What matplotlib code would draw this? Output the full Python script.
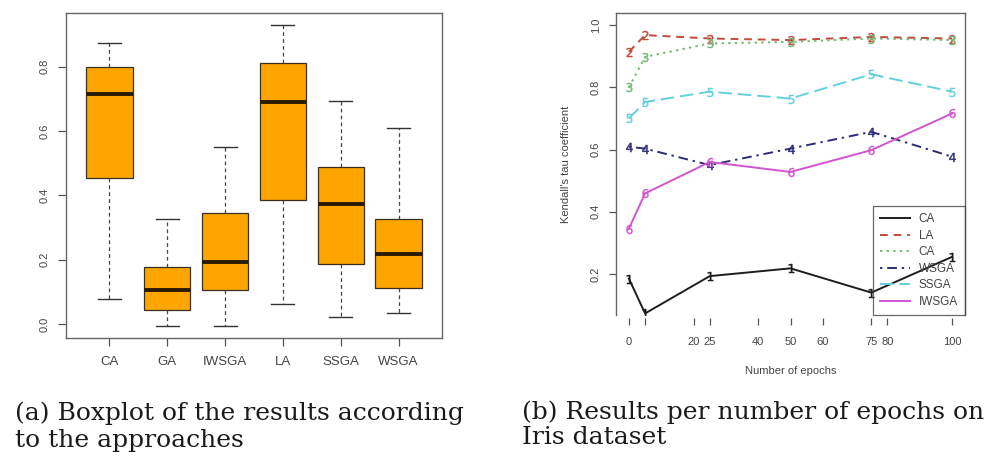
import matplotlib
matplotlib.use("Agg")
import matplotlib.pyplot as plt

plt.rcParams['font.family'] = ['Liberation Sans', 'DejaVu Sans']

# ---- Panel (a) data: boxplot statistics ----
box_labels = ["CA", "GA", "IWSGA", "LA", "SSGA", "WSGA"]
box_whislo = [0.077, -0.006, -0.006, 0.062, 0.023, 0.033]
box_q1 = [0.453, 0.044, 0.106, 0.385, 0.187, 0.111]
box_med = [0.714, 0.106, 0.192, 0.691, 0.372, 0.218]
box_q3 = [0.800, 0.176, 0.346, 0.812, 0.489, 0.325]
box_whishi = [0.875, 0.325, 0.551, 0.930, 0.694, 0.608]
box_yticks = [0.0, 0.2, 0.4, 0.6, 0.8]

# ---- Panel (b) data: Kendall's tau per number of epochs ----
epochs = [0, 5, 25, 50, 75, 100]
series_labels = ["CA", "LA", "CA", "WSGA", "SSGA", "IWSGA"]
tau_ca = [0.185, 0.073, 0.193, 0.218, 0.140, 0.255]
tau_la = [0.914, 0.968, 0.957, 0.952, 0.962, 0.957]
tau_ca2 = [0.800, 0.898, 0.941, 0.946, 0.957, 0.952]
tau_wsga = [0.609, 0.603, 0.550, 0.603, 0.657, 0.577]
tau_ssga = [0.700, 0.753, 0.786, 0.764, 0.842, 0.786]
tau_iwsga = [0.346, 0.459, 0.560, 0.528, 0.598, 0.716]
epoch_ticks = [0, 5, 20, 25, 40, 50, 60, 75, 80, 100]
epoch_ticklabels = ["0", "", "20", "25", "40", "50", "60", "75", "80", "100"]
tau_yticks = [0.2, 0.4, 0.6, 0.8, 1.0]

fig = plt.figure(figsize=(9.94, 4.59), dpi=100)

# ---------------- Panel (a) ----------------
ax1 = fig.add_axes([66/994, 1-338/459, (442-66)/994, (338-13)/459])
stats = []
for i, lab in enumerate(box_labels):
    stats.append(dict(label=lab, whislo=box_whislo[i], q1=box_q1[i], med=box_med[i],
                      q3=box_q3[i], whishi=box_whishi[i], fliers=[]))
ax1.bxp(stats, widths=0.8, patch_artist=True, showfliers=False,
        boxprops=dict(facecolor='#FFA500', edgecolor='#3a3020', linewidth=0.9),
        medianprops=dict(color='#2a1a05', linewidth=2.8, solid_capstyle='butt'),
        whiskerprops=dict(color='#444444', linewidth=0.9, linestyle=(0, (3, 2.5))),
        capprops=dict(color='#333333', linewidth=1.0),
        capwidths=0.4)
ax1.set_xlim(0.25, 6.75)
ax1.set_ylim(-0.0435, 0.967)
ax1.set_yticks(box_yticks)
ax1.set_yticklabels([f"{v:.1f}" for v in box_yticks], rotation=90, va='center', fontsize=8, color='#444444')
ax1.set_xticks(range(1, 7))
ax1.set_xticklabels(box_labels, fontsize=9.5, color='#444444')
ax1.tick_params(axis='both', direction='out', length=6, width=0.9, color='#555555')
ax1.tick_params(axis='x', pad=7)
ax1.tick_params(axis='y', pad=6)
for s in ax1.spines.values():
    s.set_color('#666666')
    s.set_linewidth(1.0)

# ---------------- Panel (b) ----------------
ax2 = fig.add_axes([616/994, 1-315/459, (965-616)/994, (315-13)/459])
ax2.spines['bottom'].set_position(('outward', 2.5))
ax2.spines['bottom'].set_visible(False)
series = [tau_ca, tau_la, tau_ca2, tau_wsga, tau_ssga, tau_iwsga]
colors = ['#1e1e1e', '#c24a3a', '#74b874', '#2c2c78', '#62d2da', '#d254d2']
styles = ['-', (0, (4, 3)), (0, (1.2, 2.2)), (0, (1.2, 2.5, 5, 2.5)), (0, (7, 3)), '-']
for k, (vals, c, ls, lab) in enumerate(zip(series, colors, styles, series_labels)):
    ax2.plot(epochs, vals, color=c, linestyle=ls, linewidth=1.4,
             marker=f'${k+1}$', markersize=6.5, markeredgewidth=0.3, label=lab)
ax2.set_xlim(-4, 104)
ax2.set_ylim(0.068, 1.039)
ax2.set_xticks(epoch_ticks)
ax2.set_xticklabels(epoch_ticklabels, fontsize=8, color='#444444')
ax2.set_yticks(tau_yticks)
ax2.set_yticklabels([f"{v:.1f}" for v in tau_yticks], rotation=90, va='center', fontsize=8, color='#444444')
ax2.tick_params(axis='both', direction='out', length=5, width=0.9, color='#555555')
ax2.tick_params(axis='x', pad=8)
ax2.tick_params(axis='y', pad=6)
for s in ['left', 'right', 'top']:
    ax2.spines[s].set_color('#666666')
    ax2.spines[s].set_linewidth(1.0)
ax2.set_xlabel("Number of epochs", fontsize=8, color='#444444', labelpad=14)
ax2.set_ylabel("Kendall's tau coefficient", fontsize=8, color='#444444', labelpad=14)
leg = ax2.legend(loc='lower right', bbox_to_anchor=(1.0, 0.0), borderaxespad=0,
                 fontsize=8.5, handlelength=2.6, labelspacing=0.38, fancybox=False,
                 facecolor='none', edgecolor='#444444', borderpad=0.6,
                 handletextpad=0.7, markerscale=0.0001)
leg.get_frame().set_linewidth(0.9)
for t in leg.get_texts():
    t.set_color('#444444')

# ---------------- Captions ----------------
cap_font = dict(family=['DejaVu Serif'], fontsize=18, color='#1a1a1a', va='center', ha='left')
fig.text(15/994, 1-413/459, "(a) Boxplot of the results according", **cap_font)
fig.text(15/994, 1-440/459, "to the approaches", **cap_font)
fig.text(522/994, 1-412/459, "(b) Results per number of epochs on", **cap_font)
fig.text(522/994, 1-438/459, "Iris dataset", **cap_font)

fig.savefig("out.png", dpi=100)
